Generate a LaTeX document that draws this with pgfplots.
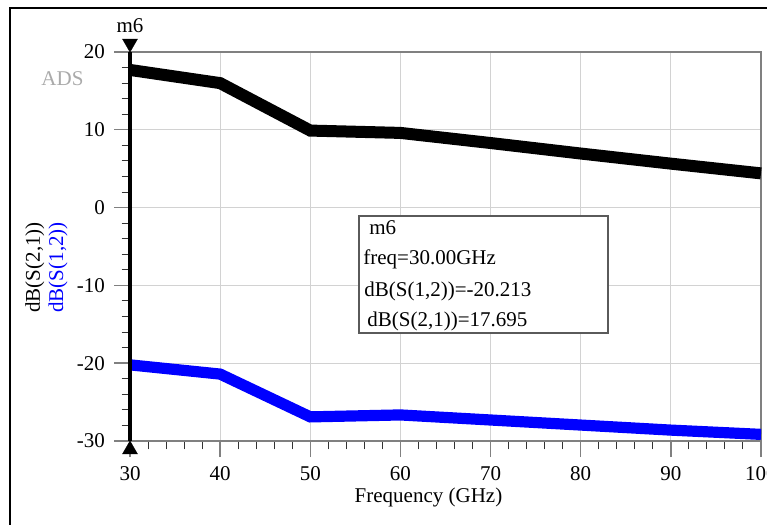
\documentclass[border=0pt]{standalone}
\usepackage{pgfplots}
\pgfplotsset{compat=1.18}
\usepackage{fontspec}
\setmainfont{Liberation Serif}
\definecolor{axgray}{RGB}{128,128,128}
\definecolor{gridgray}{RGB}{210,210,210}
\definecolor{adsgray}{RGB}{170,170,170}
\definecolor{boxgray}{RGB}{90,90,90}
\begin{document}
\begin{tikzpicture}[font=\fontsize{10.5bp}{12.6bp}\selectfont]
\useasboundingbox (-65bp,-42bp) rectangle (318.5bp,220.5bp);
\clip (-65bp,-42bp) rectangle (318.5bp,220.5bp);
\draw[black, line width=0.8bp] (-60bp,-80bp) -- (-60bp,216.5bp) -- (360bp,216.5bp);
\begin{axis}[
  at={(0,0)}, anchor=south west,
  scale only axis, width=315.5bp, height=194.5bp,
  xmin=30, xmax=100, ymin=-30, ymax=20,
  xtick={30,40,...,100}, ytick={-30,-20,...,20},
  minor x tick num=4, minor y tick num=4,
  tick pos=left,
  tick align=outside,
  major tick length=8bp, minor tick length=4.2bp,
  axis line style={axgray, line width=1bp},
  every major tick/.style={axgray, line width=0.7bp},
  every minor tick/.style={black!80, line width=0.5bp},
  xmajorgrids, ymajorgrids,
  major grid style={gridgray, line width=0.6bp},
  tick label style={font=\fontsize{10.5bp}{12.6bp}\selectfont},
  /pgf/number format/assume math mode=true,
  xticklabel style={yshift=-1bp},
  yticklabel style={xshift=-1bp},
  clip=false,
]
\addplot[black, line width=6bp] coordinates {
  (30,17.695) (40,16.0) (50,9.9) (60,9.6) (70,8.3) (80,6.95) (90,5.65) (100,4.4)};
\addplot[blue, line width=5.6bp] coordinates {
  (30,-20.213) (40,-21.4) (50,-26.9) (60,-26.65) (70,-27.3) (80,-27.95) (90,-28.6) (100,-29.15)};
% marker m6 line
\addplot[black, line width=2bp] coordinates {(30,20) (30,-30)};
\addplot[only marks, mark=triangle*, mark size=4.3bp, mark options={fill=black, draw=black, line width=0.2bp, rotate=180}] coordinates {(30,21.1)};
\addplot[only marks, mark=triangle*, mark size=4.3bp, mark options={fill=black, draw=black, line width=0.2bp}] coordinates {(30,-31.1)};
\end{axis}
% marker label and decorations
\node[anchor=base, inner sep=0] at (0bp,204bp) {m6};
\node[anchor=base, inner sep=0, text=adsgray] at (-33.75bp,177.5bp) {ADS};
\node[anchor=base west, rotate=90, inner sep=0] at (-45bp,64bp) {dB(S(2,1))};
\node[anchor=base west, rotate=90, inner sep=0, text=blue] at (-33.5bp,64bp) {dB(S(1,2))};
\node[anchor=base, inner sep=0] at (149.25bp,-30.5bp) {Frequency (GHz)};
% marker readout box
\draw[boxgray, line width=0.6bp, fill=white] (114.5bp,54bp) rectangle (239bp,112.5bp);
\node[anchor=base west, inner sep=0] at (119.5bp,103bp) {m6};
\node[anchor=base west, inner sep=0] at (116.5bp,88bp) {freq=30.00GHz};
\node[anchor=base west, inner sep=0] at (117bp,72bp) {dB(S(1,2))=-20.213};
\node[anchor=base west, inner sep=0] at (118.5bp,57bp) {dB(S(2,1))=17.695};
\end{tikzpicture}
\end{document}
